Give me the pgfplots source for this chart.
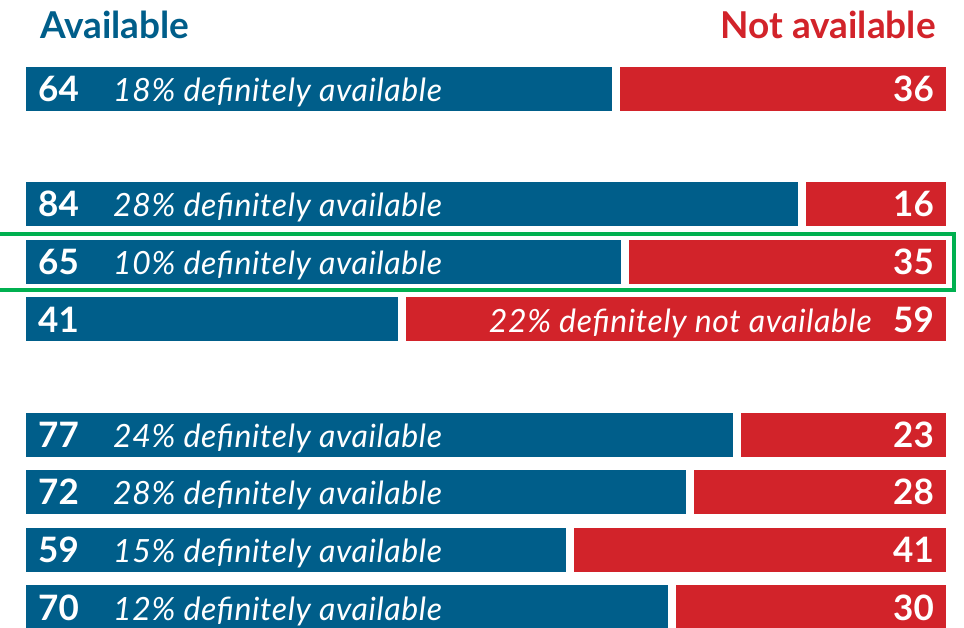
\documentclass[border=0pt]{standalone}
\usepackage{pgfplots}
\pgfplotsset{compat=1.18}
\usepackage{pgfplotstable}
\usepackage{fontspec}
\setmainfont{Lato}
\definecolor{avail}{HTML}{005E8A}
\definecolor{notav}{HTML}{D2232A}
\definecolor{hl}{HTML}{00B050}
\pgfplotstableread{
pos avail notavail
0 64 36
2 84 16
3 65 35
4 41 59
6 77 23
7 72 28
8 59 41
9 70 30
}\data
\newcommand\numf{\fontsize{35}{40}\selectfont\bfseries}
\newcommand\itf{\fontsize{32}{36}\selectfont\itshape\addfontfeatures{LetterSpace=2}}
\pgfplotsset{base/.style={
  scale only axis, width=964pt, height=627pt,
  xmin=-2.371, xmax=101.509,
  ymin=-1.545, ymax=9.34, y dir=reverse,
  hide axis, clip mode=individual}}
\begin{document}
\begin{tikzpicture}
\useasboundingbox (0,0) rectangle (964pt,627pt);
\clip (0,0) rectangle (964pt,627pt);
\begin{axis}[base, xbar stacked, bar width=52pt]
\addplot[fill=avail, draw=white, line width=8pt] table[x=avail,y=pos]{\data};
\addplot[fill=notav, draw=white, line width=8pt] table[x=notavail,y=pos]{\data};
\end{axis}
\begin{axis}[base]
\draw[hl, line width=4.5pt] (axis cs:-3.0,2.517) rectangle (axis cs:100.43,3.49);
\node[anchor=base west, inner sep=0, text=avail, font=\fontsize{37}{40}\selectfont\bfseries] at (axis cs:1.94,-0.88) {Available};
\node[anchor=base east, inner sep=0, text=notav, font=\fontsize{37}{40}\selectfont\bfseries] at (axis cs:98.49,-0.88) {Not available};
\node[anchor=base west, inner sep=0, text=white, font=\numf] at (axis cs:1.724,0.22) {64};
\node[anchor=base west, inner sep=0, text=white, font=\numf] at (axis cs:1.724,2.22) {84};
\node[anchor=base west, inner sep=0, text=white, font=\numf] at (axis cs:1.724,3.22) {65};
\node[anchor=base west, inner sep=0, text=white, font=\numf] at (axis cs:1.724,4.22) {41};
\node[anchor=base west, inner sep=0, text=white, font=\numf] at (axis cs:1.724,6.22) {77};
\node[anchor=base west, inner sep=0, text=white, font=\numf] at (axis cs:1.724,7.22) {72};
\node[anchor=base west, inner sep=0, text=white, font=\numf] at (axis cs:1.724,8.22) {59};
\node[anchor=base west, inner sep=0, text=white, font=\numf] at (axis cs:1.724,9.22) {70};
\node[anchor=base east, inner sep=0, text=white, font=\numf] at (axis cs:98.276,0.22) {36};
\node[anchor=base east, inner sep=0, text=white, font=\numf] at (axis cs:98.276,2.22) {16};
\node[anchor=base east, inner sep=0, text=white, font=\numf] at (axis cs:98.276,3.22) {35};
\node[anchor=base east, inner sep=0, text=white, font=\numf] at (axis cs:98.276,4.22) {59};
\node[anchor=base east, inner sep=0, text=white, font=\numf] at (axis cs:98.276,6.22) {23};
\node[anchor=base east, inner sep=0, text=white, font=\numf] at (axis cs:98.276,7.22) {28};
\node[anchor=base east, inner sep=0, text=white, font=\numf] at (axis cs:98.276,8.22) {41};
\node[anchor=base east, inner sep=0, text=white, font=\numf] at (axis cs:98.276,9.22) {30};
\node[anchor=base west, inner sep=0, text=white, font=\itf] at (axis cs:9.806,0.22) {18\% definitely available};
\node[anchor=base west, inner sep=0, text=white, font=\itf] at (axis cs:9.806,2.22) {28\% definitely available};
\node[anchor=base west, inner sep=0, text=white, font=\itf] at (axis cs:9.806,3.22) {10\% definitely available};
\node[anchor=base west, inner sep=0, text=white, font=\itf] at (axis cs:9.806,6.22) {24\% definitely available};
\node[anchor=base west, inner sep=0, text=white, font=\itf] at (axis cs:9.806,7.22) {28\% definitely available};
\node[anchor=base west, inner sep=0, text=white, font=\itf] at (axis cs:9.806,8.22) {15\% definitely available};
\node[anchor=base west, inner sep=0, text=white, font=\itf] at (axis cs:9.806,9.22) {12\% definitely available};
\node[anchor=base east, inner sep=0, text=white, font=\itf] at (axis cs:91.595,4.22) {22\% definitely not available};
\end{axis}
\end{tikzpicture}
\end{document}
